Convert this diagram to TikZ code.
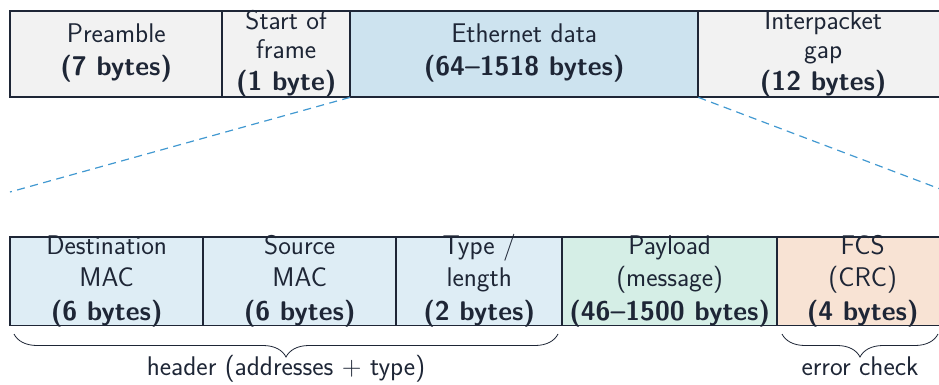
\documentclass[tikz,border=0pt]{standalone}
\usetikzlibrary{decorations.pathreplacing}
\definecolor{ink}{HTML}{1E2636}
\definecolor{greyfill}{HTML}{F2F2F2}
\definecolor{ethfill}{HTML}{CDE3EF}
\definecolor{hdrfill}{HTML}{DEEDF5}
\definecolor{payfill}{HTML}{D5EEE6}
\definecolor{fcsfill}{HTML}{F8E3D4}
\definecolor{zoomline}{HTML}{4299D1}
\tikzset{
  seg/.style={rectangle, inner sep=0pt, anchor=north west},
  edge/.style={draw=ink, line width=1.8pt},
  lbl/.style={text=ink, align=center, inner sep=0pt},
  toptext/.style={lbl, font=\sffamily\fontsize{27}{28.5}\selectfont},
  bottext/.style={lbl, font=\sffamily\fontsize{27}{32}\selectfont},
  zoom/.style={draw=zoomline, line width=1.2pt, dash pattern=on 8pt off 5.5pt},
  bracestyle/.style={draw=ink, line width=0.8pt, decorate, decoration={brace, amplitude=23pt}},
}
\begin{document}
\begin{tikzpicture}[x=1pt, y=-1pt]
\clip (0,0) rectangle (939,385);
\useasboundingbox (0,0) rectangle (939,385);
% top row: the full frame on the wire
\node[seg, fill=greyfill, minimum width=212pt, minimum height=86pt] (pre) at (10,11) {};
\node[seg, fill=greyfill, minimum width=128pt, minimum height=86pt] (sof) at (222,11) {};
\node[seg, fill=ethfill,  minimum width=348pt, minimum height=86pt] (eth) at (350,11) {};
\node[seg, fill=greyfill, minimum width=250pt, minimum height=86pt] (gap) at (698,11) {};
\node[toptext] at ([yshift=1pt]pre.center) {Preamble\\[4pt]\textbf{(7 bytes)}};
\node[toptext] at (sof.center) {Start of\\frame\\[4pt]\textbf{(1 byte)}};
\node[toptext] at ([yshift=1pt]eth.center) {Ethernet data\\[4pt]\textbf{(64--1518 bytes)}};
\node[toptext] at (gap.center) {Interpacket\\gap\\[4pt]\textbf{(12 bytes)}};
% bottom row: the Ethernet data expanded
\node[seg, fill=hdrfill, minimum width=193pt, minimum height=88pt] (dst) at (10,237) {};
\node[seg, fill=hdrfill, minimum width=193pt, minimum height=88pt] (src) at (203,237) {};
\node[seg, fill=hdrfill, minimum width=166pt, minimum height=88pt] (typ) at (396,237) {};
\node[seg, fill=payfill, minimum width=215pt, minimum height=88pt] (pay) at (562,237) {};
\node[seg, fill=fcsfill, minimum width=171pt, minimum height=88pt] (fcs) at (777,237) {};
\node[bottext] at (dst.center) {Destination\\MAC\\[2pt]\textbf{(6 bytes)}};
\node[bottext] at (src.center) {Source\\MAC\\[2pt]\textbf{(6 bytes)}};
\node[bottext] at (typ.center) {Type /\\length\\[2pt]\textbf{(2 bytes)}};
\node[bottext] at (pay.center) {Payload\\(message)\\[2pt]\textbf{(46--1500 bytes)}};
\node[bottext] at (fcs.center) {FCS\\(CRC)\\[2pt]\textbf{(4 bytes)}};
% cell borders, drawn over the labels
\foreach \c in {pre,sof,eth,gap,dst,src,typ,pay,fcs}
  \draw[edge] (\c.north west) rectangle (\c.south east);
% zoom guides
\coordinate (zl) at (10,192);
\coordinate (zr) at (948,192);
\draw[zoom] (eth.south west) -- (zl);
\draw[zoom] (eth.south east) -- (zr);
% braces
\coordinate (hb1) at (14,334);
\coordinate (hb2) at (558,334);
\coordinate (eb1) at (782,334);
\coordinate (eb2) at (938,334);
\draw[bracestyle] (hb2) -- (hb1);
\draw[bracestyle] (eb2) -- (eb1);
\path (hb1) -- (hb2) node[midway, anchor=base, yshift=-41pt, lbl, font=\sffamily\fontsize{27}{30}\selectfont] (hdr) {header (addresses + type)};
\path (eb1) -- (eb2) node[midway, anchor=base, yshift=-41pt, lbl, font=\sffamily\fontsize{27}{30}\selectfont] (err) {error check};
\end{tikzpicture}
\end{document}
